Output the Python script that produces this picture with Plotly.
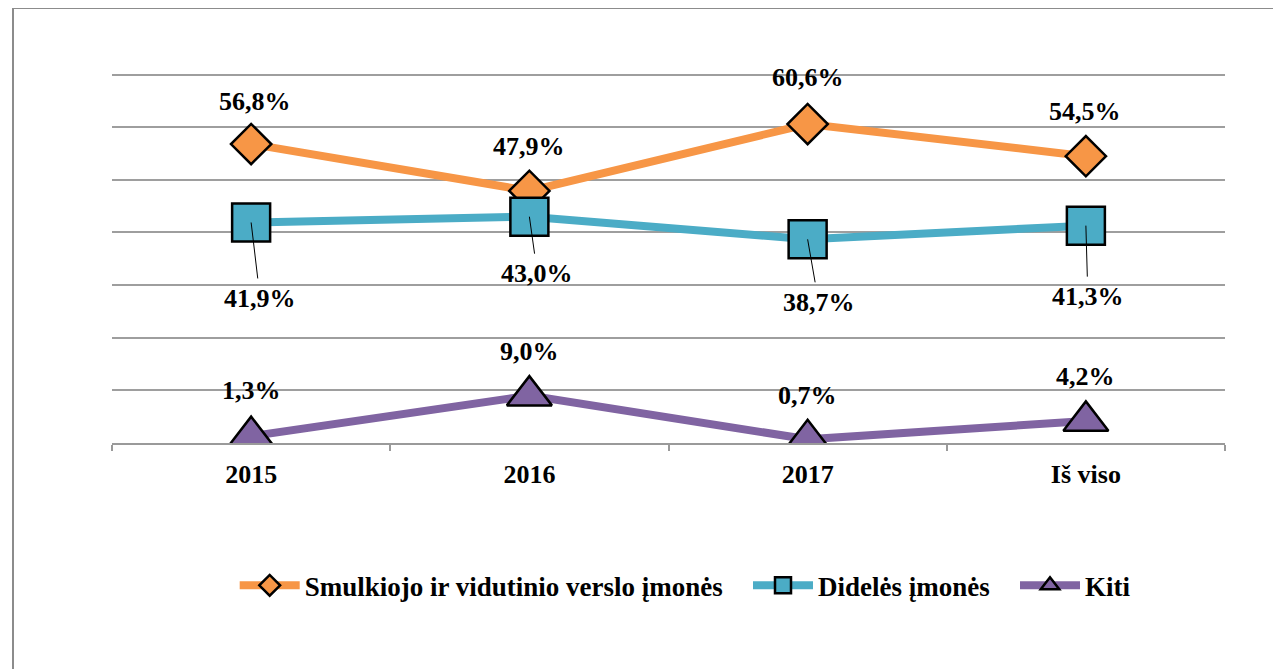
import plotly.graph_objects as go

categories = ["2015", "2016", "2017", "Iš viso"]
svv = [56.8, 47.9, 60.6, 54.5]
didel = [41.9, 43.0, 38.7, 41.3]
kiti = [1.3, 9.0, 0.7, 4.2]

names = ["Smulkiojo ir vidutinio verslo įmonės", "Didelės įmonės", "Kiti"]
pad = "\u00a0" * 3
colors = ["#F79646", "#4BACC6", "#8064A2"]
symbols = ["diamond", "square", "triangle-up"]
sizes = [31, 38, 39]

FONT = "Liberation Serif"

def fmt(v):
    return f"{v:.1f}%".replace(".", ",")

fig = go.Figure()
for i, (vals, name, col, sym, sz) in enumerate(zip([svv, didel, kiti], names, colors, symbols, sizes)):
    fig.add_trace(go.Scatter(
        x=categories, y=vals, name=name + (pad if i < 2 else ""), mode="lines+markers",
        line=dict(color=col, width=8),
        marker=dict(symbol=sym, size=sz, color=col,
                    line=dict(color="black", width=2.5)),
        hoverinfo="skip",
    ))

lab_font = dict(family=FONT, size=26, color="black", weight="bold")

# labels above for orange and purple
for vals, shifts in [(svv, [(4, 43), (0, 44), (0, 47), (-1, 45)]),
                     (kiti, [(0, 46), (0, 44), (0, 44), (0, 44)])]:
    for i, v, (dx, dy) in zip(range(len(categories)), vals, shifts):
        fig.add_annotation(x=i, y=v, text=fmt(v), showarrow=False,
                           xshift=dx, yshift=dy, font=lab_font)

# labels below with leader lines for blue
offs = [(9, 76), (8, 57), (11, 63), (2, 71)]
for i, v, (ax, ay) in zip(range(len(categories)), didel, offs):
    fig.add_annotation(x=i, y=v, text=fmt(v), showarrow=True, arrowhead=0,
                       arrowwidth=1, arrowcolor="black", ax=ax, ay=ay,
                       standoff=0, borderpad=5, font=lab_font)

PH = 370.5  # plot height in px
fig.add_shape(type="rect", xref="paper", yref="paper",
              x0=(13 - 112) / 1113, x1=(1300 - 112) / 1113,
              y0=(443 - 700) / PH, y1=(443 - 7.5) / PH,
              line=dict(color="#8C8C8C", width=2), fillcolor="rgba(0,0,0,0)", layer="below")

# the page body adds an 8px offset; margins compensate so the plot area is at 112..1225 x 72.5..443
fig.update_layout(
    width=1281, height=669,
    margin=dict(l=104, r=64, t=64.5, b=234),
    paper_bgcolor="white", plot_bgcolor="white",
    showlegend=True,
    legend=dict(orientation="h", x=0.515, xanchor="center", y=(443 - 586) / PH, yanchor="middle",
                font=dict(family=FONT, size=27, color="black", weight="bold"),
                itemwidth=60, bgcolor="rgba(0,0,0,0)"),
    xaxis=dict(type="category", range=[-0.5, 3.5], showline=True, linecolor="#9A9A9A",
               linewidth=1.8, ticks="outside", tickson="boundaries", ticklen=6,
               tickcolor="#9A9A9A", tickwidth=1.5, showgrid=False, ticklabelstandoff=7,
               tickfont=dict(family=FONT, size=26, color="black", weight="bold")),
    yaxis=dict(range=[0, 70.3], tickvals=[10, 20, 30, 40, 50, 60, 70], showgrid=True,
               gridcolor="#9E9E9E", gridwidth=1.8,
               showticklabels=False, zeroline=False, showline=False),
)

fig.write_html("out.html")
